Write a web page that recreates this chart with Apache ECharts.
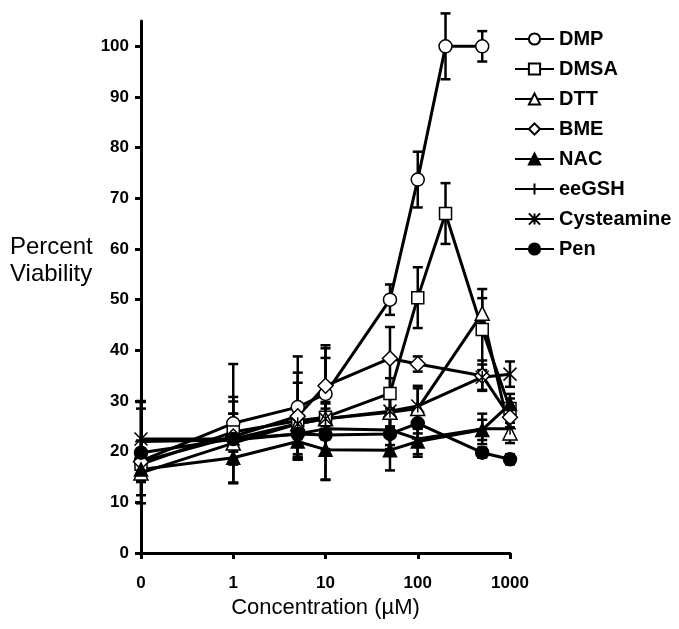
<!DOCTYPE html>
<html>
<head>
<meta charset="utf-8">
<script src="https://cdn.jsdelivr.net/npm/echarts@6/dist/echarts.min.js"></script>
<style>
html,body{margin:0;padding:0;background:#fff;}
#c{width:679px;height:629px;}
</style>
</head>
<body>
<div id="c"></div>
<script>
// Concentrations (µM); "0" is drawn at 0.1 on the log axis
const concDMP = [0.1, 1, 5, 10, 50, 100, 200, 500];
const concDMSA = [0.1, 1, 5, 10, 50, 100, 200, 500, 1000];
const concStd = [0.1, 1, 5, 10, 50, 100, 500, 1000];

const xTickLabels = ['0', '1', '10', '100', '1000'];
const yTicks = [0, 10, 20, 30, 40, 50, 60, 70, 80, 90, 100];

const dmp = [18.2, 25.6, 28.8, 31.4, 50.0, 73.7, 100, 100];
const dmpErr = [4, 11.7, 10, 9, 3, 5.5, 6.5, 3];
const dmsa = [17.5, 23.9, 26.1, 26.8, 31.5, 50.4, 67, 44.1, 28.5];
const dmsaErr = [3, 6, 7.5, 3, 3, 6, 6, 8, 2];
const dtt = [15.8, 21.7, 25.5, 26.5, 27.8, 28.5, 47.3, 23.7];
const dttErr = [4.4, 3, 3, 3, 3, 4, 3, 2];
const bme = [18, 23, 27, 33, 38.4, 37.3, 35, 26.8];
const bmeErr = [2, 3, 8.6, 8, 6.2, 1.5, 3, 2];
const nac = [16.5, 18.8, 22, 20.4, 20.3, 22, 24.3, 29.4];
const nacErr = [2, 5, 3, 6, 4, 3, 2, 2];
const eegsh = [22, 22.3, 23.5, 24.5, 24.3, 22.5, 24.5, 24.5];
const eegshErr = [8, 8.5, 4, 4, 3, 3, 3, 2];
const cyst = [22.5, 22.5, 25.5, 26.5, 28, 29, 34.7, 35.3];
const cystErr = [6, 5, 4, 12, 3, 4, 2.5, 2.5];
const pen = [19.8, 22.5, 23.5, 23.3, 23.5, 25.6, 19.8, 18.5];
const penErr = [10, 5, 5, 4, 3, 2, 1, 1];

const FONT = '"Liberation Sans", Arial, sans-serif';
const plusPath = 'path://M5,0 L5,10 M0,5 L10,5';
const starPath = 'path://M0,0 L10,10 M10,0 L0,10 M5,0 L5,10';

const defs = [
  {name: 'DMP', x: concDMP, y: dmp, e: dmpErr, symbol: 'circle', size: 13, fill: '#fff'},
  {name: 'DMSA', x: concDMSA, y: dmsa, e: dmsaErr, symbol: 'rect', size: 12, fill: '#fff'},
  {name: 'DTT', x: concStd, y: dtt, e: dttErr, symbol: 'triangle', size: 14, fill: '#fff'},
  {name: 'BME', x: concStd, y: bme, e: bmeErr, symbol: 'diamond', size: 15, fill: '#fff'},
  {name: 'NAC', x: concStd, y: nac, e: nacErr, symbol: 'triangle', size: 13, fill: '#000'},
  {name: 'eeGSH', x: concStd, y: eegsh, e: eegshErr, symbol: plusPath, size: 12, fill: 'none'},
  {name: 'Cysteamine', x: concStd, y: cyst, e: cystErr, symbol: starPath, size: 13, fill: 'none'},
  {name: 'Pen', x: concStd, y: pen, e: penErr, symbol: 'circle', size: 13, fill: '#000'}
];

const errData = [];
defs.forEach(d => d.x.forEach((xv, i) => errData.push([xv, d.y[i], d.e[i]])));

const series = [{
  type: 'custom',
  name: 'err',
  silent: true,
  z: 1,
  encode: {x: 0, y: 1},
  data: errData,
  renderItem: function (params, api) {
    const x = api.value(0), y = api.value(1), e = api.value(2);
    const t = api.coord([x, y + e]);
    const b = api.coord([x, y - e]);
    const w = 5;
    const st = {stroke: '#000', lineWidth: 2.5};
    return {
      type: 'group',
      children: [
        {type: 'line', shape: {x1: t[0], y1: t[1], x2: b[0], y2: b[1]}, style: st},
        {type: 'line', shape: {x1: t[0] - w, y1: t[1], x2: t[0] + w, y2: t[1]}, style: st},
        {type: 'line', shape: {x1: b[0] - w, y1: b[1], x2: b[0] + w, y2: b[1]}, style: st}
      ]
    };
  }
}];

defs.forEach(d => {
  series.push({
    type: 'line',
    name: d.name,
    z: 3,
    data: d.x.map((xv, i) => [xv, d.y[i]]),
    symbol: d.symbol,
    symbolSize: d.size,
    showAllSymbol: true,
    lineStyle: {color: '#000', width: 3},
    itemStyle: {color: d.fill, borderColor: '#000', borderWidth: 1.5},
    emphasis: {disabled: true}
  });
});

const chart = echarts.init(document.getElementById('c'));
chart.setOption({
  animation: false,
  backgroundColor: '#fff',
  grid: {left: 141, right: 169, top: 21, bottom: 76, containLabel: false},
  legend: {
    data: defs.map(d => d.name),
    orient: 'vertical',
    left: 509,
    top: 24,
    itemWidth: 39,
    itemHeight: 14,
    itemGap: 10,
    selectedMode: false,
    textStyle: {fontFamily: FONT, fontWeight: 'bold', fontSize: 20, color: '#000'}
  },
  xAxis: {
    type: 'log',
    logBase: 10,
    min: 0.1,
    max: 1000,
    name: 'Concentration (µM)',
    nameLocation: 'middle',
    nameGap: 42,
    nameTextStyle: {fontFamily: FONT, fontSize: 22, color: '#000'},
    axisLine: {lineStyle: {color: '#000', width: 3}},
    axisTick: {show: true, length: 6, lineStyle: {color: '#000', width: 3}},
    splitLine: {show: false},
    minorTick: {show: false},
    axisLabel: {
      fontFamily: FONT, fontWeight: 'bold', fontSize: 17, color: '#000', margin: 22,
      formatter: function (v) {
        const k = Math.round(Math.log10(v)) + 1;
        return xTickLabels[k] !== undefined ? xTickLabels[k] : '';
      }
    }
  },
  yAxis: {
    type: 'value',
    min: 0,
    max: 105,
    interval: 10,
    axisLine: {show: true, lineStyle: {color: '#000', width: 3}},
    axisTick: {show: true, length: 6, lineStyle: {color: '#000', width: 3}, customValues: yTicks},
    splitLine: {show: false},
    axisLabel: {fontFamily: FONT, fontWeight: 'bold', fontSize: 17, color: '#000', margin: 12, customValues: yTicks}
  },
  graphic: [{
    type: 'text',
    left: 10,
    top: 234,
    style: {text: 'Percent\nViability', fontFamily: FONT, fontSize: 24, fill: '#000', lineHeight: 27}
  }],
  series: series
});
</script>
</body>
</html>
